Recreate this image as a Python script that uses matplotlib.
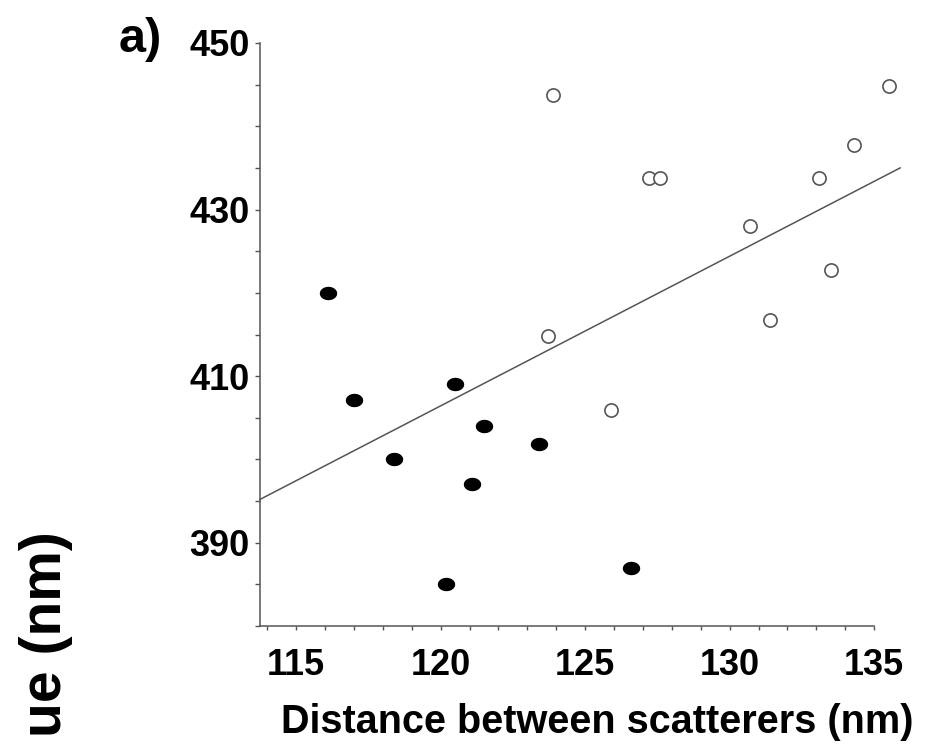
import numpy as np
import matplotlib
matplotlib.use("Agg")
import matplotlib.pyplot as plt
from matplotlib.path import Path
from matplotlib.ticker import MultipleLocator

plt.rcParams["font.family"] = ["Liberation Sans", "DejaVu Sans"]
plt.rcParams["font.weight"] = "bold"

# filled points
filled_x = [116.1, 117.0, 118.4, 120.5, 121.5, 121.1, 123.4, 120.2, 126.6]
filled_y = [420.0, 407.1, 400.0, 409.0, 404.0, 397.0, 401.8, 385.0, 387.0]

# open points
open_x = [123.9, 127.2, 127.6, 135.5, 134.3, 133.1, 130.7, 133.5, 131.4, 123.7, 125.9]
open_y = [443.8, 433.8, 433.8, 444.8, 437.7, 433.8, 428.0, 422.8, 416.8, 414.8, 405.9]

# fitted line end points
fit_x = [113.75, 135.9]
fit_y = [395.2, 435.0]

xticks = [115, 120, 125, 130, 135]
yticks = [390, 410, 430, 450]

# slightly flattened ellipse for the filled markers
t = np.linspace(0, 2 * np.pi, 60)
ellipse = Path(np.column_stack([np.cos(t), 0.75 * np.sin(t)]), closed=True)

fig = plt.figure(figsize=(9.5, 7.48), dpi=100)
ax = fig.add_axes([260 / 950, 122 / 748, 680 / 950, 583 / 748])

ax.plot(fit_x, fit_y, color="#555555", lw=1.1, clip_on=False)
ax.plot(filled_x, filled_y, ls="none", marker=ellipse, ms=11.5,
        mfc="black", mec="black", clip_on=False)
ax.plot(open_x, open_y, ls="none", marker="o", ms=9.5, mfc="white",
        mec="#555555", mew=1.2, clip_on=False)

ax.set_xlim(113.75, 137.28)
ax.set_ylim(380, 450)

for s in ["top", "right"]:
    ax.spines[s].set_visible(False)
ax.spines["bottom"].set_bounds(113.75, 135)
ax.spines["left"].set_bounds(380, 450)
for s in ["bottom", "left"]:
    ax.spines[s].set_color("#555555")
    ax.spines[s].set_linewidth(1.1)

ax.set_xticks(xticks)
ax.set_xticks(list(range(114, 136)), minor=True)
ax.set_yticks(yticks)
ax.yaxis.set_minor_locator(MultipleLocator(5))
ax.tick_params(axis="x", which="both", length=3, width=1, color="#555555",
               labelsize=26, pad=13)
ax.tick_params(axis="y", which="both", length=3.5, width=1, color="#555555",
               labelsize=26, pad=4)

ax.set_xlabel("Distance between scatterers (nm)", fontsize=28.5,
              fontweight="bold")
ax.xaxis.set_label_coords((597 - 260) / 680, -(722 - 626) / 583)
ax.xaxis.label.set_va("center")

fig.text(140 / 950, 1 - 40 / 748, "a)", fontsize=35, fontweight="bold",
         ha="center", va="center")
fig.text(46 / 950, 1 - 531 / 748, "ue (nm)", fontsize=41, fontweight="bold",
         rotation=90, ha="center", va="top")

fig.savefig("out.png", dpi=100)
